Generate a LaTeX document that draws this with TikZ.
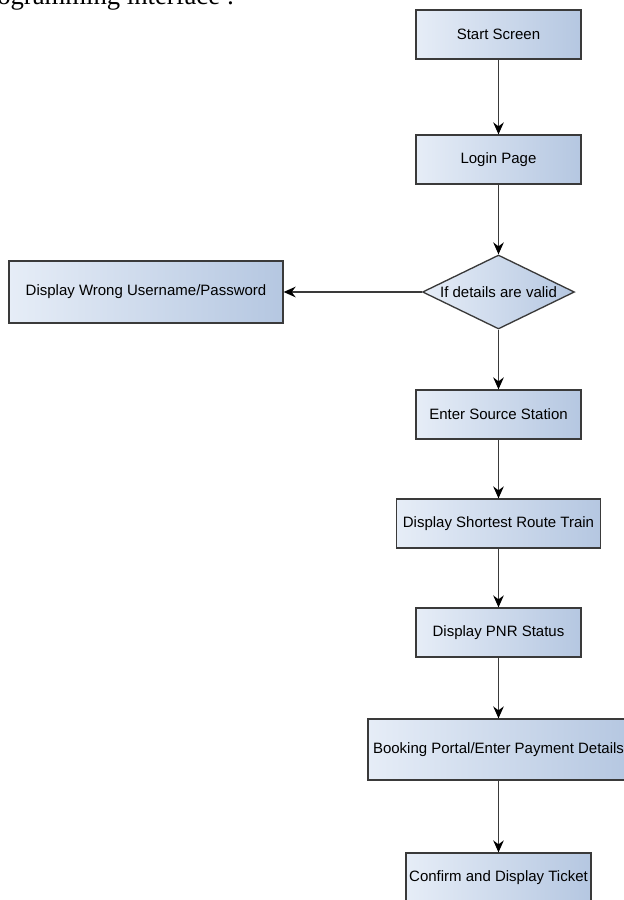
\documentclass[tikz,border=0pt]{standalone}
\usepackage{fontspec}
\setmainfont{Liberation Sans}
\newfontfamily\docfont{Liberation Serif}
\usetikzlibrary{shapes.geometric,arrows.meta}
\definecolor{boxleft}{HTML}{E6EDF7}
\definecolor{boxright}{HTML}{B5C7E1}
\definecolor{edge}{HTML}{3A3A3A}

\begin{document}
\begin{tikzpicture}[x=0.75pt,y=-0.75pt,
  box/.style={draw=edge, line width=1pt, left color=boxleft, right color=boxright,
    font=\fontsize{11.25}{13}\selectfont, inner sep=0pt, align=center},
  screen/.style={box, minimum width=123.75pt, minimum height=36.75pt},
  decision/.style={box, diamond, aspect=2, minimum width=114pt, minimum height=55.5pt},
  flow/.style={draw=edge, line width=0.9pt, -{Stealth[length=9pt,width=8pt,inset=3pt,color=black]}}]
\useasboundingbox (0,0) rectangle (624,900);
\clip (0,0) rectangle (624,900);

\node[font=\docfont\fontsize{20}{24}\selectfont, anchor=base west, inner sep=0pt] (title) at (-3,4) {ogramming interface :};

\node[screen] (start) at (498.5,34.5) {Start Screen};
\node[screen] (login) at (498.5,159.5) {Login Page};
\node[decision] (valid) at (498.5,292) {If details are valid};
\node[box, minimum width=205.5pt, minimum height=46.5pt] (wrong) at (146,292) {Display Wrong Username/Password};
\node[screen] (source) at (498.5,414.5) {Enter Source Station};
\node[box, minimum width=152.6pt, minimum height=36.75pt] (route) at (498.5,523.5) {Display Shortest Route Train};
\node[screen] (pnr) at (498.5,632.5) {Display PNR Status};
\node[box, minimum width=195.75pt, minimum height=45.75pt] (booking) at (498.5,749.5) {Booking Portal/Enter Payment Details};
\node[box, minimum width=138.75pt, minimum height=36.75pt] (ticket) at (498.5,877.5) {Confirm and Display Ticket};

\draw[flow] (start) -- (login);
\draw[flow] (login) -- (valid);
\draw[flow] (valid) -- (wrong);
\draw[flow] (valid) -- (source);
\draw[flow] (source) -- (route);
\draw[flow] (route) -- (pnr);
\draw[flow] (pnr) -- (booking);
\draw[flow] (booking) -- (ticket);

\end{tikzpicture}
\end{document}
